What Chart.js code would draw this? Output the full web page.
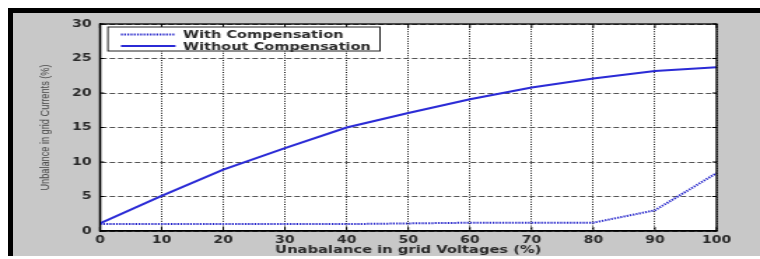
<!DOCTYPE html>
<html>
<head>
<meta charset="utf-8">
<script src="https://cdn.jsdelivr.net/npm/chart.js@4.4.1/dist/chart.umd.min.js"></script>
<style>
html, body { margin: 0; padding: 0; background: #fff; width: 760px; height: 259px; overflow: hidden; }
#frame { position: absolute; left: 8px; top: 8px; width: 747px; height: 243px;
         border-top: 5px solid #000; border-left: 5px solid #000; background: #c8c8c8; }
/* the original figure is stretched sideways, so the canvas is too */
#wrap { position: absolute; left: 0; top: 0; width: 543px; height: 259px;
        transform: scaleX(1.3996); transform-origin: 0 0; }
</style>
</head>
<body>
<div id="frame"></div>
<div id="wrap"><canvas id="c" width="543" height="259"></canvas></div>
<script>
// Unbalance in grid voltages (%), x axis
var voltageUnbalance = [0, 10, 20, 30, 40, 50, 60, 70, 80, 90, 100];
// Unbalance in grid currents (%)
var withComp    = [1.0, 1.0, 1.0, 1.0, 1.0, 1.1, 1.2, 1.2, 1.2, 3.0, 8.4];
var withoutComp = [1.1, 5.1, 8.9, 12.0, 15.0, 17.1, 19.1, 20.8, 22.1, 23.2, 23.75];

var xTicks = [0, 10, 20, 30, 40, 50, 60, 70, 80, 90, 100];
var yTicks = [0, 5, 10, 15, 20, 25, 30];

function points(ys) {
	return voltageUnbalance.map(function (x, i) {
		return {x: x, y: ys[i]};
	});
}

var tickFont = {family: 'DejaVu Sans', weight: 'bold', size: 10};
var textColor = '#2a2a2a';

var matlabBox = {
	id: 'matlabBox',
	beforeDraw: function (chart) {
		var a = chart.chartArea, ctx = chart.ctx;
		ctx.save();
		ctx.fillStyle = '#fff';
		ctx.fillRect(a.left, a.top, a.right - a.left, a.bottom - a.top);
		ctx.restore();
	},
	afterDatasetsDraw: function (chart) {
		var a = chart.chartArea, ctx = chart.ctx;
		var xs = chart.scales.x, ys = chart.scales.y;
		ctx.save();
		ctx.strokeStyle = '#000';
		ctx.lineWidth = 1;
		ctx.beginPath();
		// inner ticks, like matlab
		xTicks.forEach(function (v) {
			var px = xs.getPixelForValue(v);
			ctx.moveTo(px, a.top); ctx.lineTo(px, a.top + 4);
			ctx.moveTo(px, a.bottom); ctx.lineTo(px, a.bottom - 4);
		});
		yTicks.forEach(function (v) {
			var py = ys.getPixelForValue(v);
			ctx.moveTo(a.left, py); ctx.lineTo(a.left + 3, py);
			ctx.moveTo(a.right, py); ctx.lineTo(a.right - 3, py);
		});
		ctx.stroke();
		ctx.lineWidth = 1.3;
		ctx.strokeRect(a.left, a.top, a.right - a.left, a.bottom - a.top);
		ctx.restore();
	},
	afterDraw: function (chart) {
		// legend box in the top left corner
		var a = chart.chartArea, ctx = chart.ctx;
		var bx = a.left + 5.7, by = a.top + 3;
		ctx.save();
		ctx.fillStyle = '#fff';
		ctx.fillRect(bx, by, 194.4, 24);
		ctx.strokeStyle = '#222';
		ctx.lineWidth = 1;
		ctx.strokeRect(bx, by, 194.4, 24);
		chart.data.datasets.forEach(function (ds, i) {
			var y = by + 7.5 + i * 11.5;
			ctx.setLineDash(ds.borderDash || []);
			ctx.strokeStyle = ds.borderColor;
			ctx.lineWidth = ds.borderWidth;
			ctx.beginPath();
			ctx.moveTo(a.left + 15, y);
			ctx.lineTo(a.left + 54, y);
			ctx.stroke();
			ctx.setLineDash([]);
			ctx.fillStyle = textColor;
			ctx.font = 'bold 10.4px "DejaVu Sans"';
			ctx.textBaseline = 'middle';
			ctx.fillText(ds.label, a.left + 59.3, y + 1);
		});
		ctx.restore();
	}
};

new Chart(document.getElementById('c'), {
	type: 'line',
	data: {
		datasets: [{
			label: 'With Compensation',
			data: points(withComp),
			borderColor: '#2828cc',
			borderWidth: 2,
			borderDash: [1.3, 1]
		}, {
			label: 'Without Compensation',
			data: points(withoutComp),
			borderColor: '#2b2bd6',
			borderWidth: 2
		}]
	},
	options: {
		responsive: false,
		animation: false,
		devicePixelRatio: 1,
		layout: {padding: {left: 24, top: 24, right: 31, bottom: 0}},
		elements: {point: {radius: 0}, line: {tension: 0}},
		plugins: {legend: {display: false}, tooltip: {enabled: false}},
		scales: {
			x: {
				type: 'linear', min: 0, max: 100,
				afterBuildTicks: function (s) { s.ticks = xTicks.map(function (v) { return {value: v}; }); },
				afterFit: function (s) { s.height = 28; },
				grid: {color: '#111', lineWidth: 1, drawTicks: false},
				border: {color: '#000', width: 1.3, dash: [1, 1.4]},
				ticks: {padding: 3, color: textColor, font: tickFont, maxRotation: 0, autoSkip: false},
				title: {display: true, text: 'Unabalance in grid Voltages (%)', color: textColor,
					font: {family: 'DejaVu Sans', weight: 'bold', size: 10.5}, padding: {top: 0, bottom: 2}}
			},
			y: {
				min: 0, max: 30,
				afterBuildTicks: function (s) { s.ticks = yTicks.map(function (v) { return {value: v}; }); },
				afterFit: function (s) { s.width = 47.4; },
				grid: {color: '#555', lineWidth: 1, drawTicks: false},
				border: {color: '#000', width: 1.3, dash: [4, 2]},
				ticks: {padding: 6, color: textColor, font: tickFont},
				title: {display: true, text: 'Unbalance in grid Currents (%)', color: '#4a4a4a',
					font: {family: 'Liberation Sans', size: 9.2}, padding: {top: 3, bottom: 0}}
			}
		}
	},
	plugins: [matlabBox]
});
</script>
</body>
</html>
